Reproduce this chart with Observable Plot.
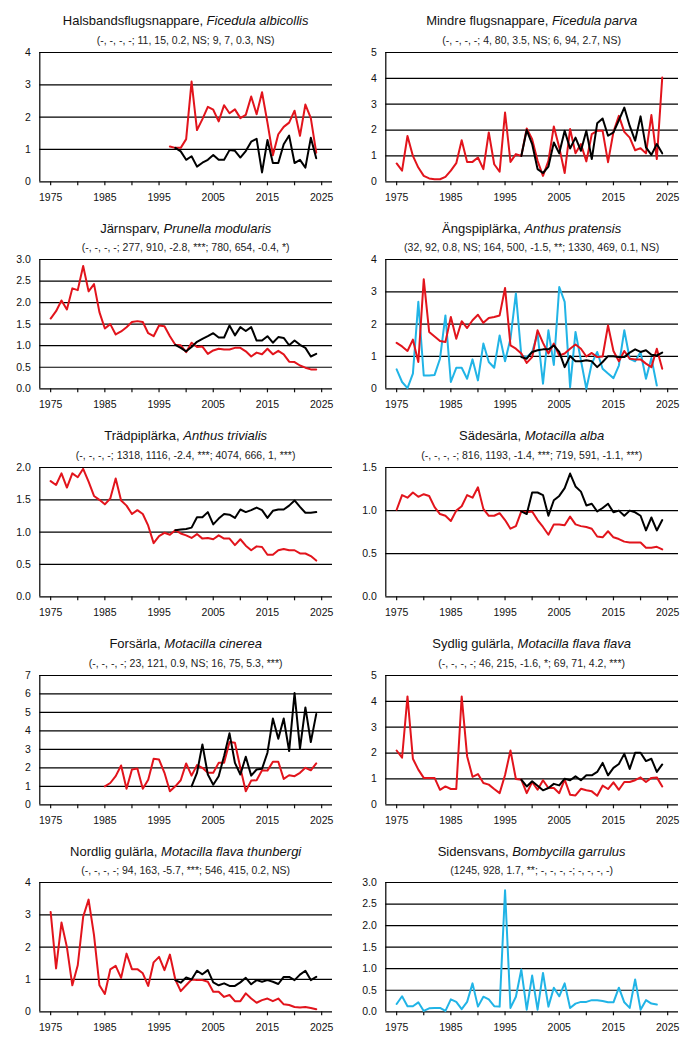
<!DOCTYPE html>
<html><head><meta charset="utf-8">
<script src="https://cdn.jsdelivr.net/npm/d3@7"></script>
<script src="https://cdn.jsdelivr.net/npm/@observablehq/plot@0.6"></script>
<style>
html,body{margin:0;padding:0;background:#fff;}
#root{position:relative;width:692px;height:1038px;overflow:hidden;font-family:"Liberation Sans",Arial,sans-serif;}
.t{position:absolute;text-align:center;white-space:nowrap;color:#111;font-size:13px;line-height:16px;z-index:2}
.s{position:absolute;text-align:center;white-space:nowrap;color:#222;font-size:10.5px;line-height:14px;z-index:2}
.p{position:absolute;z-index:1}
</style></head><body><div id="root"></div>
<script>
// ---------- data ----------
const RED = "#e2141c", BLACK = "#000000", BLUE = "#21b4e6";

const halsRed = [1.09,1.05,1.05,1.32,3.1,1.6,1.94,2.32,2.23,1.87,2.37,2.12,2.24,1.97,2.07,2.64,2.09,2.77,1.83,0.82,1.47,1.70,1.83,2.2,1.42,2.39,1.97,0.9]; // 1997-
const halsBlack = [1.05,0.94,0.68,0.79,0.47,0.59,0.68,0.83,0.68,0.68,0.98,0.96,0.75,0.95,1.24,1.33,0.29,1.29,0.58,0.58,1.16,1.43,0.58,0.68,0.44,1.36,0.73]; // 1998-

const mindreRed = [0.71,0.43,1.77,1.0,0.55,0.23,0.13,0.1,0.1,0.19, 0.43,0.72,1.61,0.77,0.77,0.94,0.49,1.91,0.68,0.39, 2.68,0.77,1.07,1.0,2.06,1.65,0.81,0.23,0.81,2.14, 1.33,0.34,2.04,1.1,1.46,0.79,1.84,1.97,1.97,0.76, 1.93,2.55,1.93,1.71,1.22,1.3,1.1,2.58,0.88,4.03]; // 1975-
const mindreBlack = [1.0,2.0,1.46,0.49,0.34,0.59,1.52,1.1,1.97,1.29,1.71,1.2,1.97,0.88,2.26,2.45,1.78,1.91,2.38,2.87,2.16,1.59,2.53,1.33,1.04,1.46,1.1]; // 1998-

const jarnRed = [1.63,1.80,2.05,1.84,2.33,2.29,2.85,2.26,2.43,1.78, 1.40,1.50,1.26,1.33,1.43,1.55,1.57,1.55,1.29,1.22, 1.47,1.45,1.22,1.02,1.01,0.85,1.07,0.97,0.98,0.81, 0.89,0.93,0.91,0.91,0.95,0.95,0.87,0.75,0.84,0.80, 0.93,0.80,0.88,0.80,0.63,0.62,0.54,0.49,0.45,0.45]; // 1975-
const jarnBlack = [1.02,0.95,0.87,0.97,1.09,1.16,1.22,1.29,1.19,1.19,1.47,1.24,1.43,1.34,1.43,1.12,1.12,1.22,1.07,1.2,1.18,1.01,1.12,1.02,0.95,0.75,0.81]; // 1998-

const angRed = [1.42,1.31,1.17,1.52,0.83,3.39,1.76,1.62,1.48,1.45, 2.22,1.55,2.09,1.88,2.12,2.29,2.04,2.19,2.22,2.27, 3.12,1.34,1.24,1.09,0.8,0.98,1.81,1.42,1.09,1.40, 1.03,1.09,1.24,1.37,1.24,1.0,1.11,0.98,1.0,1.96, 1.17,0.85,1.17,0.93,0.91,0.91,0.78,0.67,1.24,0.62]; // 1975-
const angBlue = [0.6,0.21,0.02,0.47,2.69,0.41,0.41,0.43,0.93,2.27, 0.21,0.65,0.65,0.31,0.91,0.26,1.4,0.83,0.65,1.65, 0.85,1.55,2.95,1.03,0.98,1.14,1.71,0.16,1.81,0.74, 3.15,2.69,0.05,1.76,0.88,0.0,0.78,1.14,0.62,0.47, 0.33,0.72,1.81,0.93,0.85,1.14,0.31,0.95,0.1]; // 1975-
const angBlack = [0.98,0.93,1.14,1.19,1.22,1.22,1.34,1.14,0.67,1.01,0.85,0.85,0.88,0.85,0.67,0.83,1.01,1.01,0.98,0.98,1.12,1.22,1.14,1.19,1.05,1.03,1.12]; // 1998-

const tradRed = [1.79,1.73,1.91,1.69,1.91,1.85,1.98,1.78,1.56,1.50, 1.43,1.52,1.83,1.49,1.41,1.28,1.34,1.28,1.10,0.83, 0.94,0.99,0.96,1.03,0.98,0.95,0.91,0.97,0.90,0.91, 0.89,0.95,0.90,0.90,0.80,0.89,0.79,0.72,0.78,0.77, 0.65,0.65,0.72,0.74,0.72,0.72,0.67,0.67,0.63,0.56]; // 1975-
const tradBlack = [1.03,1.04,1.05,1.07,1.23,1.23,1.31,1.12,1.21,1.28,1.27,1.22,1.35,1.31,1.34,1.38,1.34,1.22,1.33,1.35,1.35,1.41,1.49,1.39,1.30,1.30,1.31]; // 1998-

const sadRed = [1.01,1.18,1.15,1.21,1.16,1.19,1.17,1.04,0.96,0.94, 0.88,1.0,1.05,1.18,1.15,1.27,1.02,0.94,0.94,0.97, 0.89,0.79,0.82,0.99,0.98,0.99,0.89,0.81,0.72,0.84, 0.84,0.83,0.93,0.84,0.82,0.81,0.79,0.70,0.69,0.76, 0.69,0.67,0.64,0.63,0.63,0.63,0.57,0.57,0.58,0.55]; // 1975-
const sadBlack = [0.99,0.96,1.21,1.21,1.18,0.94,1.12,1.17,1.26,1.43,1.28,1.22,1.06,1.08,0.99,1.03,1.08,0.98,1.0,0.94,1.0,0.98,0.94,0.77,0.92,0.77,0.89]; // 1998-

const forsRed = [1.0,1.18,1.55,2.13,0.87,1.91,1.96,0.87,1.36,2.49, 2.45,1.73,0.73,1.0,1.33,2.24,1.58,2.15,2.0,1.73, 1.73,2.27,2.27,3.4,3.36,2.0,0.73,1.31,1.33,1.87, 1.85,2.33,2.33,1.4,1.6,1.55,1.73,2.0,1.87,2.24]; // 1985-
const forsBlack = [1.0,1.73,3.27,1.64,1.09,1.55,2.64,3.87,2.27,1.64,2.6,1.58,1.91,1.95,2.82,4.67,3.58,4.67,2.91,6.05,3.04,5.27,3.4,4.91]; // 2001-

const sydRed = [2.1,1.82,4.19,1.78,1.36,1.04,1.04,1.04,0.58,0.71, 0.61,0.61,4.19,1.88,1.08,1.19,0.84,0.78,0.61,0.45, 1.15,2.1,1.0,0.97,0.45,0.88,0.58,0.95,0.65,0.65, 0.45,0.97,0.39,0.36,0.62,0.56,0.52,0.35,0.74,0.61, 0.87,0.58,0.88,0.88,0.95,1.06,0.88,1.04,1.06,0.71]; // 1975-
const sydBlack = [0.97,0.71,0.91,0.74,0.56,0.65,0.81,0.75,1.01,0.95,1.1,0.95,1.14,1.14,1.27,1.62,1.14,1.43,1.58,1.97,1.39,2.01,2.01,1.69,1.78,1.27,1.56]; // 1998-

const nordRed = [3.09,1.34,2.76,2.0,0.82,1.44,2.94,3.47,2.37,0.82, 0.55,1.31,1.42,1.05,1.8,1.32,1.32,1.19,0.8,1.53, 1.7,1.29,1.77,1.0,0.64,0.82,1.0,0.98,0.98,0.93, 0.62,0.62,0.46,0.52,0.33,0.33,0.57,0.41,0.28,0.36, 0.41,0.33,0.41,0.23,0.21,0.15,0.13,0.15,0.12,0.08]; // 1975-
const nordBlack = [0.98,0.9,1.06,1.0,1.27,1.16,1.29,0.91,0.82,0.88,0.8,0.8,0.91,1.05,0.85,0.98,0.93,0.98,0.93,0.86,1.08,1.08,0.98,1.15,1.27,0.98,1.08]; // 1998-

const sidBlue = [0.18,0.36,0.13,0.13,0.22,0.02,0.08,0.09,0.09,0.02, 0.29,0.23,0.06,0.23,0.66,0.12,0.35,0.29,0.13,0.12, 2.82,0.09,0.35,0.98,0.05,0.84,0.05,0.9,0.12,0.56, 0.36,0.66,0.09,0.19,0.23,0.23,0.27,0.27,0.25,0.22, 0.22,0.56,0.22,0.09,0.75,0.05,0.27,0.19,0.17]; // 1975-

const names = ["Halsbandsflugsnappare","Mindre flugsnappare","Järnsparv","Ängspiplärka","Trädpiplärka","Sädesärla","Forsärla","Sydlig gulärla","Nordlig gulärla","Sidensvans"];
const latins = ["Ficedula albicollis","Ficedula parva","Prunella modularis","Anthus pratensis","Anthus trivialis","Motacilla alba","Motacilla cinerea","Motacilla flava flava","Motacilla flava thunbergi","Bombycilla garrulus"];
const stats = [
  "(-, -, -, -; 11, 15, 0.2, NS; 9, 7, 0.3, NS)",
  "(-, -, -, -; 4, 80, 3.5, NS; 6, 94, 2.7, NS)",
  "(-, -, -, -; 277, 910, -2.8, ***; 780, 654, -0.4, *)",
  "(32, 92, 0.8, NS; 164, 500, -1.5, **; 1330, 469, 0.1, NS)",
  "(-, -, -, -; 1318, 1116, -2.4, ***; 4074, 666, 1, ***)",
  "(-, -, -, -; 816, 1193, -1.4, ***; 719, 591, -1.1, ***)",
  "(-, -, -, -; 23, 121, 0.9, NS; 16, 75, 5.3, ***)",
  "(-, -, -, -; 46, 215, -1.6, *; 69, 71, 4.2, ***)",
  "(-, -, -, -; 94, 163, -5.7, ***; 546, 415, 0.2, NS)",
  "(1245, 928, 1.7, **; -, -, -, -; -, -, -, -)"
];
const yMaxes = [4, 5, 3, 4, 2, 1.5, 7, 5, 4, 3];
const ySteps = [1, 1, 0.5, 1, 0.5, 0.5, 1, 1, 1, 0.5];
const seriesList = [
  [[1997, halsRed, RED], [1998, halsBlack, BLACK]],
  [[1975, mindreRed, RED], [1998, mindreBlack, BLACK]],
  [[1975, jarnRed, RED], [1998, jarnBlack, BLACK]],
  [[1975, angBlue, BLUE], [1975, angRed, RED], [1998, angBlack, BLACK]],
  [[1975, tradRed, RED], [1998, tradBlack, BLACK]],
  [[1975, sadRed, RED], [1998, sadBlack, BLACK]],
  [[1985, forsRed, RED], [2001, forsBlack, BLACK]],
  [[1975, sydRed, RED], [1998, sydBlack, BLACK]],
  [[1975, nordRed, RED], [1998, nordBlack, BLACK]],
  [[1975, sidBlue, BLUE]]
];
const xTicks = d3.range(1975, 2026, 5);

// ---------- layout ----------
const X0 = 1973, X1 = 2027;
const FIRST_TOP = 51.7, ROW_PITCH = 207.65, PLOT_H = 129.3;
const MT = 8, MB = 26, ML = 39.3, MR = 14, W = 346;
const root = document.getElementById("root");

names.forEach((name, i) => {
  const col = i % 2, row = Math.floor(i / 2);
  const left = col * 346, top = FIRST_TOP + row * ROW_PITCH;
  const yMax = yMaxes[i], yStep = ySteps[i];
  const yTicks = d3.range(0, yMax + yStep / 2, yStep);
  const fmt = yStep < 1 ? d3.format(".1f") : d3.format("d");
  const marks = [
    Plot.ruleY(yTicks, {stroke: "#000", strokeWidth: 1.2}),
    Plot.ruleX([X0], {stroke: "#000", strokeWidth: 1.2}),
    Plot.axisX({ticks: xTicks, tickSize: 4, tickPadding: 8, strokeWidth: 1.2,
      tickFormat: d => (d % 10 === 5 ? String(d) : ""), label: null}),
    Plot.axisY({ticks: yTicks, tickSize: 0, tickPadding: 9, tickFormat: fmt, label: null})
  ];
  seriesList[i].forEach(([start, values, color]) => {
    const data = values.map((v, k) => ({year: start + k, value: v}));
    marks.push(Plot.line(data, {x: "year", y: "value", stroke: color, strokeWidth: 2}));
  });
  const svg = Plot.plot({
    width: W, height: PLOT_H + MT + MB,
    marginLeft: ML, marginRight: MR, marginTop: MT, marginBottom: MB,
    x: {domain: [X0, X1], label: null},
    y: {domain: [0, yMax], label: null},
    style: {fontFamily: '"Liberation Sans", Arial, sans-serif', fontSize: "10.5px", color: "#111", background: "transparent", overflow: "visible"},
    marks
  });
  const pd = document.createElement("div");
  pd.className = "p";
  pd.style.left = left + "px";
  pd.style.top = (top - MT) + "px";
  pd.appendChild(svg);
  root.appendChild(pd);

  const t = document.createElement("div");
  t.className = "t";
  t.style.left = (left + ML) + "px";
  t.style.width = (W - ML - MR) + "px";
  t.style.top = (top - 38.7) + "px";
  t.innerHTML = "";
  t.appendChild(document.createTextNode(name + ", "));
  const it = document.createElement("i");
  it.textContent = latins[i];
  t.appendChild(it);
  root.appendChild(t);

  const s = document.createElement("div");
  s.className = "s";
  s.style.left = (left + ML) + "px";
  s.style.width = (W - ML - MR) + "px";
  s.style.top = (top - 19) + "px";
  s.textContent = stats[i];
  root.appendChild(s);
});
</script></body></html>
